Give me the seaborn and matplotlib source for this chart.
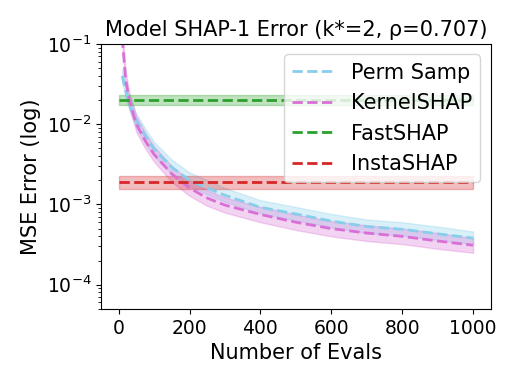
import numpy as np
import pandas as pd
import matplotlib
matplotlib.use("Agg")
import matplotlib.pyplot as plt
import seaborn as sns

# data
evals = [10, 20, 30, 50, 75, 100, 150, 200, 250, 300, 400, 500, 600, 700, 800, 900, 1000]
perm = [0.040, 0.026, 0.018, 0.011, 0.0072, 0.0049, 0.0029, 0.0020, 0.0016, 0.0013,
        0.00092, 0.00076, 0.00062, 0.00053, 0.00049, 0.00043, 0.00038]
perm_lo = [0.033, 0.021, 0.015, 0.0090, 0.0059, 0.0040, 0.0024, 0.0017, 0.00133, 0.00108,
           0.00077, 0.00063, 0.00052, 0.00044, 0.00041, 0.00036, 0.00032]
perm_hi = [0.049, 0.032, 0.022, 0.0135, 0.0088, 0.0060, 0.0036, 0.0025, 0.0020, 0.0016,
           0.00113, 0.00093, 0.00076, 0.00065, 0.00060, 0.00053, 0.00046]
kernel = [0.12, 0.035, 0.020, 0.010, 0.0062, 0.0042, 0.0024, 0.0016, 0.0012, 0.00098,
          0.00075, 0.00060, 0.00050, 0.00044, 0.00040, 0.00035, 0.00031]
kernel_lo = [0.095, 0.028, 0.016, 0.0080, 0.0050, 0.0034, 0.0019, 0.00128, 0.00096, 0.00079,
             0.00060, 0.00048, 0.00040, 0.00035, 0.00032, 0.00028, 0.00025]
kernel_hi = [0.15, 0.044, 0.025, 0.0125, 0.0078, 0.0053, 0.0030, 0.0020, 0.0015, 0.00122,
             0.00093, 0.00075, 0.00062, 0.00055, 0.00050, 0.00044, 0.00038]
fast = 0.0201
fast_lo, fast_hi = 0.0173, 0.0230
insta = 0.00188
insta_lo, insta_hi = 0.00158, 0.00226

plt.rcParams["font.family"] = ["DejaVu Sans"]

fig = plt.figure(figsize=(5.15, 3.86), dpi=100)
ax = fig.add_axes([0.196, 0.2, 0.757, 0.686])

sns.lineplot(x=evals, y=perm, color="skyblue", linestyle="--", linewidth=2, label="Perm Samp", ax=ax)
ax.fill_between(evals, perm_lo, perm_hi, color="skyblue", alpha=0.3)
sns.lineplot(x=evals, y=kernel, color="orchid", linestyle="--", linewidth=2, label="KernelSHAP", ax=ax)
ax.fill_between(evals, kernel_lo, kernel_hi, color="orchid", alpha=0.3)

span = [0, 1000]
sns.lineplot(x=span, y=[fast, fast], color="tab:green", linestyle="--", linewidth=2, label="FastSHAP", ax=ax)
ax.fill_between(span, fast_lo, fast_hi, color="tab:green", alpha=0.3)
sns.lineplot(x=span, y=[insta, insta], color="tab:red", linestyle="--", linewidth=2, label="InstaSHAP", ax=ax)
ax.fill_between(span, insta_lo, insta_hi, color="tab:red", alpha=0.3)

ax.set_yscale("log")
ax.set_ylim(5e-5, 1e-1)
ax.set_xlim(-50, 1050)
ax.set_xticks([0, 200, 400, 600, 800, 1000])
ax.tick_params(labelsize=13.5)
ax.set_xlabel("Number of Evals", fontsize=15)
ax.set_ylabel("MSE Error (log)", fontsize=15)
ax.set_title("Model SHAP-1 Error (k*=2, ρ=0.707)", fontsize=15)
ax.legend(loc="upper right", fontsize=15)

fig.savefig("out.png", dpi=100)
